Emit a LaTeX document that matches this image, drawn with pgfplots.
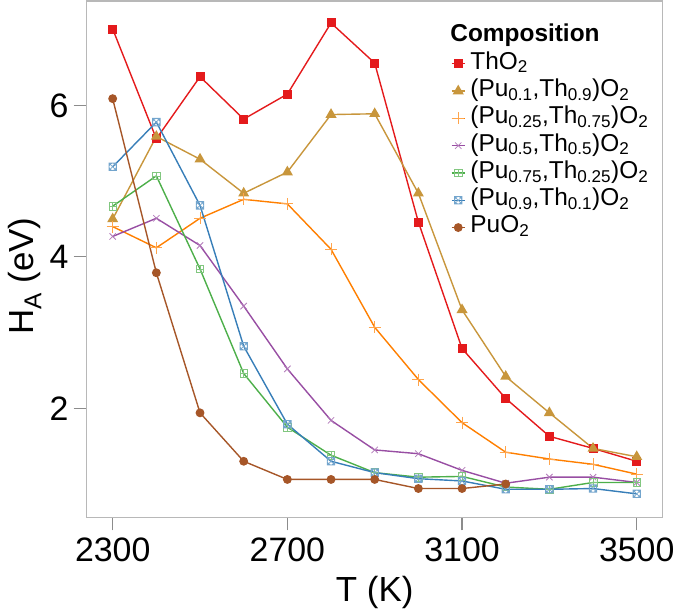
\documentclass[border=0pt]{standalone}
\usepackage{pgfplots}
\pgfplotsset{compat=1.18}
\usepackage{fontspec}
\setmainfont{Liberation Sans}
\definecolor{cTh}{HTML}{E41A1C}
\definecolor{cPa}{HTML}{C8963C}
\definecolor{cPb}{HTML}{FF7F00}
\definecolor{cPc}{HTML}{984EA3}
\definecolor{cPd}{HTML}{4DAF4A}
\definecolor{cPe}{HTML}{377EB8}
\definecolor{cPu}{HTML}{A65628}
\pgfdeclareplotmark{boxplus}{%
  \pgfpathrectangle{\pgfpoint{-\pgfplotmarksize}{-\pgfplotmarksize}}{\pgfpoint{2\pgfplotmarksize}{2\pgfplotmarksize}}%
  \pgfpathmoveto{\pgfpoint{-\pgfplotmarksize}{0pt}}\pgfpathlineto{\pgfpoint{\pgfplotmarksize}{0pt}}%
  \pgfpathmoveto{\pgfpoint{0pt}{-\pgfplotmarksize}}\pgfpathlineto{\pgfpoint{0pt}{\pgfplotmarksize}}%
  \pgfusepathqstroke}
\pgfdeclareplotmark{boxtimescirc}{%
  \pgfpathrectangle{\pgfpoint{-\pgfplotmarksize}{-\pgfplotmarksize}}{\pgfpoint{2\pgfplotmarksize}{2\pgfplotmarksize}}%
  \pgfpathcircle{\pgfpoint{0pt}{0pt}}{\pgfplotmarksize}%
  \pgfpathmoveto{\pgfpoint{-\pgfplotmarksize}{-\pgfplotmarksize}}\pgfpathlineto{\pgfpoint{\pgfplotmarksize}{\pgfplotmarksize}}%
  \pgfpathmoveto{\pgfpoint{-\pgfplotmarksize}{\pgfplotmarksize}}\pgfpathlineto{\pgfpoint{\pgfplotmarksize}{-\pgfplotmarksize}}%
  \pgfusepathqstroke}
\pgfplotstableread{
T    ThO2 Pa   Pb   Pc   Pd   Pe
2300 7.01 4.50 4.40 4.27 4.67 5.19
2400 5.56 5.59 4.12 4.51 5.07 5.78
2500 6.38 5.29 4.51 4.15 3.84 4.68
2600 5.82 4.84 4.76 3.35 2.46 2.82
2700 6.15 5.12 4.70 2.52 1.75 1.79
2800 7.09 5.88 4.10 1.84 1.38 1.30
2900 6.56 5.89 3.07 1.45 1.15 1.15
3000 4.46 4.84 2.38 1.40 1.09 1.07
3100 2.79 3.30 1.81 1.18 1.10 1.04
3200 2.13 2.42 1.42 1.01 0.96 0.93
3300 1.63 1.94 1.33 1.09 0.93 0.93
3400 1.47 1.47 1.26 1.09 1.02 0.94
3500 1.30 1.36 1.13 1.02 1.02 0.87
}\datatable
\pgfplotstableread{
T    PuO2
2300 6.09
2400 3.79
2500 1.94
2600 1.30
2700 1.06
2800 1.06
2900 1.06
3000 0.94
3100 0.94
3200 1.00
}\puotable
\begin{document}
\begin{tikzpicture}
\begin{axis}[
  scale only axis, width=576bp, height=516.3bp,
  xmin=2240.5, xmax=3559.5, ymin=0.56, ymax=7.38,
  xtick={2300,2700,3100,3500}, ytick={2,4,6},
  tick pos=left, tick align=outside, major tick length=13bp,
  axis line style={draw=black!28, line width=1.2bp},
  tick style={draw=black!45, line width=1.2bp},
  /pgf/number format/assume math mode=true,
  /pgf/number format/set thousands separator={},
  ticklabel style={font=\fontsize{34}{34}\selectfont, inner sep=0pt},
  xticklabel style={anchor=north, yshift=-7bp},
  yticklabel style={anchor=east, xshift=-5bp},
  xlabel={T (K)}, ylabel={H\textsubscript{A} (eV)},
  label style={font=\fontsize{35}{35}\selectfont, inner sep=0pt},
  xlabel style={at={(axis description cs:0.5,0)}, anchor=base, yshift=-84bp},
  ylabel style={at={(axis description cs:-0.0932,0.467)}, anchor=base, rotate=0},
  legend cell align=left,
  legend style={draw=none, fill=none, at={(axis description cs:0.627,0.962)}, anchor=north west,
    font=\fontsize{24.5}{27}\selectfont, row sep=0pt, column sep=5bp,
    nodes={inner sep=0pt, text height=19bp, text depth=8.3bp}},
  legend image code/.code={\draw[mark repeat=2,mark phase=2] plot coordinates {(0bp,0bp)(6.5bp,0bp)(13bp,0bp)};},
  every axis plot/.append style={line width=1.4bp},
]
\addlegendimage{empty legend}
\addlegendentry{\hspace*{-20bp}\textbf{Composition}}
\addplot[cTh, mark=square*, mark size=3.8bp, mark options={solid}] table[x=T,y=ThO2] {\datatable};
\addlegendentry{ThO\textsubscript{2}}
\addplot[cPa, mark=triangle*, mark size=5bp, mark options={solid}] table[x=T,y=Pa] {\datatable};
\addlegendentry{(Pu\textsubscript{0.1},Th\textsubscript{0.9})O\textsubscript{2}}
\addplot[cPb, mark=+, mark size=6bp, mark options={solid, line width=0.8bp, draw=cPb!70}] table[x=T,y=Pb] {\datatable};
\addlegendentry{(Pu\textsubscript{0.25},Th\textsubscript{0.75})O\textsubscript{2}}
\addplot[cPc, mark=x, mark size=4.5bp, mark options={solid, line width=0.8bp, draw=cPc!75}] table[x=T,y=Pc] {\datatable};
\addlegendentry{(Pu\textsubscript{0.5},Th\textsubscript{0.5})O\textsubscript{2}}
\addplot[cPd, mark=boxplus, mark size=3.8bp, mark options={solid, line width=0.7bp, draw=cPd!70}] table[x=T,y=Pd] {\datatable};
\addlegendentry{(Pu\textsubscript{0.75},Th\textsubscript{0.25})O\textsubscript{2}}
\addplot[cPe, mark=boxtimescirc, mark size=3.8bp, mark options={solid, line width=0.7bp, draw=cPe!70}] table[x=T,y=Pe] {\datatable};
\addlegendentry{(Pu\textsubscript{0.9},Th\textsubscript{0.1})O\textsubscript{2}}
\addplot[cPu, mark=*, mark size=3.7bp, mark options={solid}] table[x=T,y=PuO2] {\puotable};
\addlegendentry{PuO\textsubscript{2}}
\end{axis}
\pgfresetboundingbox
\useasboundingbox (-86.7bp,-91bp) rectangle (588.3bp,517.3bp);
\end{tikzpicture}
\end{document}
